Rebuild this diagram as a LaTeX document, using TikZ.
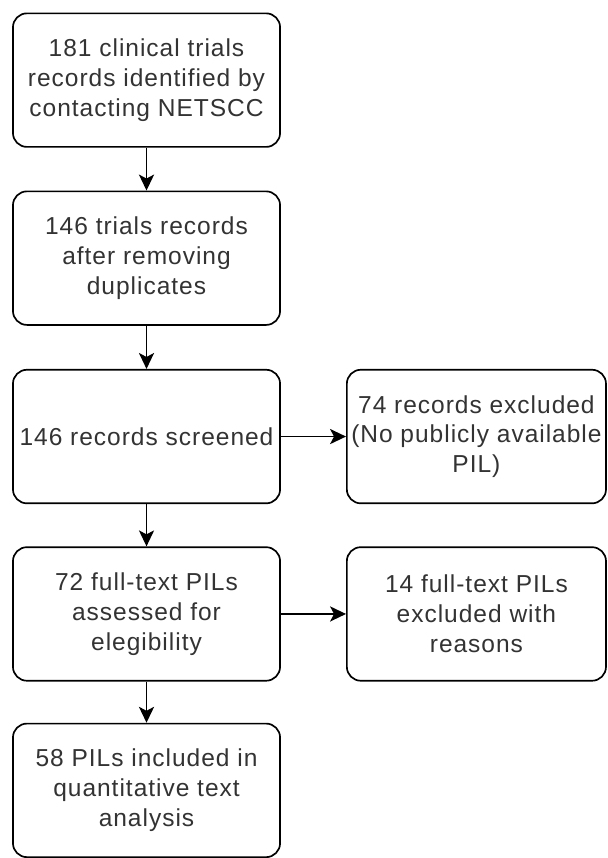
\documentclass[tikz,border=0pt]{standalone}
\usepackage{fontspec}
\setmainfont{Liberation Sans}[LetterSpace=4]
\usetikzlibrary{arrows.meta}
\tikzset{
  stagebox/.style={draw, line width=1.2pt, rounded corners=0.35cm, minimum width=6.7cm, minimum height=3.35cm, inner xsep=0.5pt, align=center, text=black!80, font=\fontsize{17.5pt}{21.3pt}\selectfont},
  sidebox/.style={stagebox, minimum width=6.5cm},
  flow/.style={-{Stealth[length=0.4cm, width=0.38cm, inset=0.1cm]}, line width=1.2pt}
}
\begin{document}
\begin{tikzpicture}
\fill [color=white] (0, 0) rectangle (15.25, 21.45);

\node (ident) at (3.675, 19.44) [stagebox] {181 clinical trials\\records identified by\\contacting NETSCC};
\node (dedup) at (3.675, 14.975) [stagebox] {146 trials records\\after removing\\duplicates};
\node (screen) at (3.675, 10.5) [stagebox] {146 records screened};
\node (assess) at (3.675, 6.05) [stagebox] {72 full-text PILs\\assessed for\\elegibility};
\node (incl) at (3.675, 1.625) [stagebox] {58 PILs included in\\quantitative text\\analysis};
\node (excl1) at (11.95, 10.5) [sidebox] {74 records excluded\\(No publicly available\\PIL)};
\node (excl2) at (11.95, 6.05) [sidebox] {14 full-text PILs\\excluded with\\reasons};

\draw [flow] (ident) -- (dedup);
\draw [flow] (dedup) -- (screen);
\draw [flow] (screen) -- (assess);
\draw [flow] (assess) -- (incl);
\draw [flow] (screen) -- (excl1);
\draw [flow] (assess) -- (excl2);
\end{tikzpicture}
\end{document}
